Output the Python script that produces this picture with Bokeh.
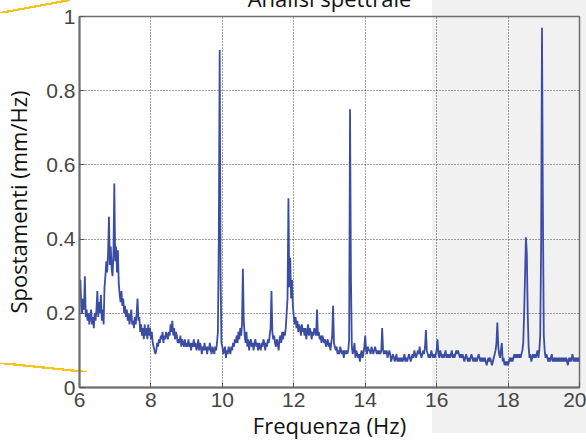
from bokeh.plotting import figure
from bokeh.models import FixedTicker
from bokeh.embed import file_html
from bokeh.resources import INLINE
import numpy as np

title_text = "Analisi spettrale"
x_label = "Frequenza (Hz)"
y_label = "Spostamenti (mm/Hz)"
x_ticks = [6, 8, 10, 12, 14, 16, 18, 20]
y_ticks = [0, 0.2, 0.4, 0.6, 0.8, 1]

f_start = 6.0
df = 0.025
amp = [
    0.27, 0.29, 0.22, 0.20, 0.24, 0.21, 0.30, 0.19, 0.21, 0.18, 0.20, 0.17, 0.19, 0.21, 0.17, 0.19, 0.16, 0.20, 0.18, 0.21,
    0.26, 0.19, 0.23, 0.20, 0.25, 0.18, 0.21, 0.17, 0.27, 0.30, 0.34, 0.31, 0.36, 0.46, 0.33, 0.38, 0.32, 0.30, 0.36, 0.55,
    0.34, 0.38, 0.31, 0.37, 0.28, 0.25, 0.23, 0.26, 0.22, 0.24, 0.20, 0.22, 0.19, 0.21, 0.18, 0.20, 0.17, 0.19, 0.21, 0.17,
    0.18, 0.16, 0.19, 0.17, 0.20, 0.24, 0.18, 0.19, 0.15, 0.17, 0.14, 0.16, 0.13, 0.17, 0.14, 0.16, 0.13, 0.17, 0.14, 0.16,
    0.13, 0.15, 0.12, 0.11, 0.10, 0.09, 0.10, 0.12, 0.11, 0.13, 0.12, 0.14, 0.13, 0.15, 0.12, 0.14, 0.13, 0.15, 0.14, 0.13,
    0.15, 0.14, 0.17, 0.15, 0.18, 0.14, 0.16, 0.13, 0.15, 0.14, 0.12, 0.13, 0.12, 0.14, 0.11, 0.13, 0.12, 0.11, 0.13, 0.11,
    0.12, 0.11, 0.13, 0.11, 0.12, 0.10, 0.12, 0.11, 0.13, 0.11, 0.12, 0.10, 0.11, 0.13, 0.10, 0.12, 0.11, 0.09, 0.11, 0.10,
    0.12, 0.10, 0.11, 0.09, 0.11, 0.10, 0.12, 0.10, 0.09, 0.11, 0.10, 0.09, 0.11, 0.10, 0.12, 0.15, 0.40, 0.91, 0.30, 0.12,
    0.11, 0.09, 0.10, 0.11, 0.08, 0.10, 0.09, 0.11, 0.10, 0.09, 0.11, 0.10, 0.12, 0.11, 0.13, 0.12, 0.14, 0.12, 0.15, 0.13,
    0.16, 0.14, 0.17, 0.32, 0.18, 0.14, 0.12, 0.15, 0.11, 0.13, 0.10, 0.12, 0.13, 0.11, 0.12, 0.10, 0.12, 0.13, 0.11, 0.12,
    0.10, 0.12, 0.11, 0.10, 0.12, 0.11, 0.13, 0.12, 0.10, 0.12, 0.11, 0.13, 0.12, 0.14, 0.16, 0.26, 0.15, 0.13, 0.14, 0.12,
    0.11, 0.13, 0.12, 0.10, 0.13, 0.14, 0.12, 0.15, 0.13, 0.15, 0.14, 0.16, 0.20, 0.24, 0.51, 0.27, 0.35, 0.24, 0.29, 0.22,
    0.19, 0.17, 0.19, 0.16, 0.18, 0.15, 0.17, 0.16, 0.14, 0.17, 0.15, 0.16, 0.14, 0.16, 0.13, 0.15, 0.17, 0.14, 0.16, 0.15,
    0.13, 0.15, 0.14, 0.16, 0.15, 0.14, 0.21, 0.14, 0.15, 0.13, 0.14, 0.12, 0.14, 0.13, 0.12, 0.13, 0.11, 0.12, 0.13, 0.11,
    0.12, 0.10, 0.12, 0.14, 0.22, 0.12, 0.11, 0.10, 0.11, 0.09, 0.10, 0.09, 0.11, 0.10, 0.09, 0.10, 0.08, 0.10, 0.09, 0.10,
    0.09, 0.10, 0.13, 0.75, 0.30, 0.11, 0.09, 0.10, 0.12, 0.08, 0.10, 0.09, 0.08, 0.09, 0.07, 0.09, 0.10, 0.08, 0.09, 0.11,
    0.14, 0.10, 0.09, 0.11, 0.10, 0.10, 0.09, 0.11, 0.10, 0.09, 0.10, 0.11, 0.10, 0.09, 0.10, 0.09, 0.10, 0.09, 0.10, 0.16,
    0.10, 0.09, 0.10, 0.09, 0.10, 0.08, 0.09, 0.10, 0.09, 0.07, 0.08, 0.09, 0.08, 0.07, 0.08, 0.09, 0.07, 0.08, 0.07, 0.08,
    0.07, 0.08, 0.07, 0.08, 0.09, 0.07, 0.08, 0.07, 0.08, 0.09, 0.08, 0.07, 0.08, 0.09, 0.08, 0.10, 0.09, 0.08, 0.09, 0.10,
    0.09, 0.11, 0.09, 0.08, 0.09, 0.10, 0.09, 0.11, 0.155, 0.10, 0.09, 0.08, 0.09, 0.08, 0.10, 0.09, 0.08, 0.09, 0.08, 0.09,
    0.10, 0.13, 0.09, 0.08, 0.10, 0.09, 0.08, 0.09, 0.08, 0.09, 0.10, 0.08, 0.09, 0.08, 0.09, 0.08, 0.09, 0.10, 0.08, 0.09,
    0.08, 0.09, 0.10, 0.09, 0.10, 0.09, 0.08, 0.09, 0.08, 0.09, 0.08, 0.07, 0.08, 0.09, 0.08, 0.07, 0.08, 0.07, 0.08, 0.09,
    0.08, 0.07, 0.08, 0.07, 0.08, 0.07, 0.08, 0.09, 0.08, 0.07, 0.08, 0.07, 0.08, 0.07, 0.08, 0.07, 0.06, 0.07, 0.08, 0.07,
    0.08, 0.07, 0.06, 0.07, 0.08, 0.09, 0.10, 0.12, 0.175, 0.11, 0.09, 0.08, 0.10, 0.12, 0.07, 0.08, 0.06, 0.07, 0.06, 0.07,
    0.06, 0.07, 0.08, 0.07, 0.08, 0.07, 0.08, 0.09, 0.08, 0.09, 0.08, 0.09, 0.08, 0.09, 0.08, 0.09, 0.10, 0.12, 0.20, 0.30,
    0.405, 0.36, 0.20, 0.11, 0.08, 0.09, 0.07, 0.08, 0.09, 0.08, 0.09, 0.08, 0.09, 0.10, 0.08, 0.10, 0.14, 0.38, 0.97, 0.48,
    0.14, 0.10, 0.08, 0.09, 0.08, 0.07, 0.08, 0.07, 0.08, 0.09, 0.07, 0.08, 0.07, 0.08, 0.07, 0.08, 0.07, 0.08, 0.07, 0.08,
    0.07, 0.08, 0.07, 0.08, 0.07, 0.08, 0.07, 0.06, 0.08, 0.07, 0.08, 0.07, 0.09, 0.08, 0.07, 0.08, 0.07, 0.08, 0.07, 0.08,
    0.07,
]
freq = np.round(f_start + df * np.arange(len(amp)), 3)

SHIFT = 30  # canvas starts above the window so that the title is cut, as in the source

p = figure(width=586, height=442 + SHIFT, output_backend="svg", toolbar_location=None,
           x_range=(6, 20), y_range=(0, 1),
           min_border_left=79, min_border_right=7, min_border_top=16 + SHIFT, min_border_bottom=53)

p.title.text = title_text
p.title.align = "center"
p.title.text_font = "Open Sans"
p.title.text_font_size = "22px"
p.title.text_font_style = "normal"
p.title.text_color = "#111111"
p.title.standoff = 8

# page decoration behind the (transparent) canvas: grey panel and yellow swooshes
stripe = ("transparent calc(50% - 1.1px), #f6c31c calc(50% - 1.1px), "
          "#f6c31c calc(50% + 1.1px), transparent calc(50% + 1.1px)")
p.border_fill_color = None
p.background_fill_color = None
p.styles = {
    "margin-top": f"-{SHIFT}px",
    "background-color": "#ffffff",
    "background-image": ", ".join([
        f"linear-gradient(to bottom right, {stripe})",
        f"linear-gradient(to top right, {stripe})",
        f"linear-gradient(to bottom, transparent {433 + SHIFT}px, #ffffff {433 + SHIFT}px)",
        "linear-gradient(to right, #ffffff 432px, #f1f1f1 432px)",
    ]),
    "background-position": f"0px {SHIFT}px, 0px {363 + SHIFT}px, 0px 0px, 0px 0px",
    "background-size": "70px 13px, 87px 9px, 100% 100%, 100% 100%",
    "background-repeat": "no-repeat",
}

p.outline_line_color = "#6e6e6e"
p.outline_line_width = 1.5

p.line(freq, amp, line_color="#3a4da3", line_width=1.8)

tick_font = "Liberation Sans"
for ax in (p.xaxis[0], p.yaxis[0]):
    ax.axis_line_color = "#6e6e6e"
    ax.axis_line_width = 2
    ax.major_tick_in = 5
    ax.major_tick_out = 0
    ax.minor_tick_line_color = None
    ax.major_tick_line_color = "#555555"
    ax.major_label_text_font = tick_font
    ax.major_label_text_font_size = "21px"
    ax.major_label_text_color = "#454545"
    ax.axis_label_text_font = "Open Sans"
    ax.axis_label_text_font_size = "22px"
    ax.axis_label_text_font_style = "normal"
    ax.axis_label_text_color = "#111111"

p.xaxis.ticker = FixedTicker(ticks=x_ticks)
p.yaxis.ticker = FixedTicker(ticks=y_ticks)
p.yaxis.major_label_overrides = {0: "0", 1: "1"}
p.xaxis.axis_label = x_label
p.yaxis.axis_label = y_label
p.xaxis.major_label_standoff = 5
p.yaxis.major_label_standoff = 4
p.xaxis.axis_label_standoff = 0
p.yaxis.axis_label_standoff = 10

p.grid.grid_line_color = "#333333"
p.grid.grid_line_dash = "1 2"
p.grid.grid_line_width = 1
p.grid.grid_line_alpha = 0.9
p.xgrid.ticker = FixedTicker(ticks=x_ticks)
p.ygrid.ticker = FixedTicker(ticks=y_ticks)

open("out.html", "w").write(file_html(p, INLINE))
